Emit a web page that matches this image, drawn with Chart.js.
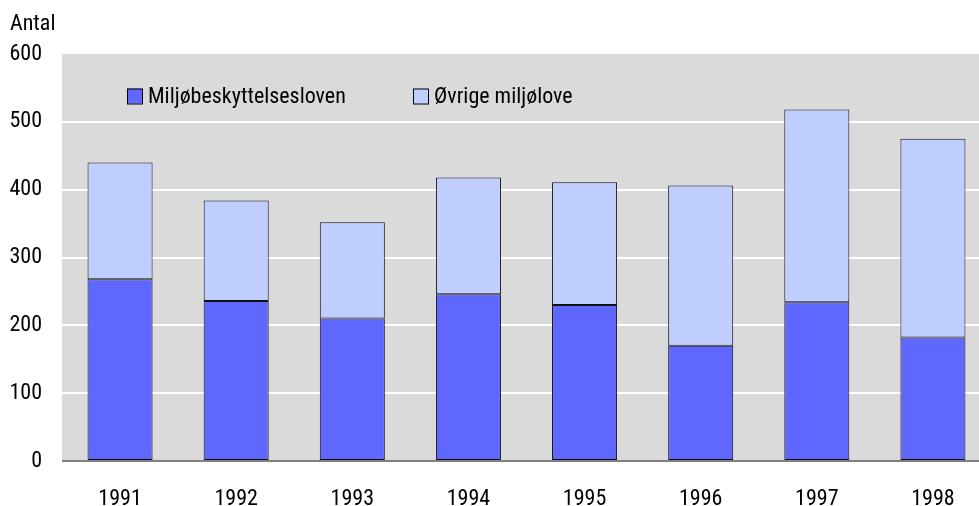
<!DOCTYPE html>
<html>
<head>
<meta charset="utf-8">
<script src="https://cdn.jsdelivr.net/npm/chart.js@4/dist/chart.umd.min.js"></script>
<style>
html,body{margin:0;padding:0;background:#fff;overflow:hidden;width:979px;height:506px;}
#wrap{width:991px;height:506px;position:relative;}
</style>
</head>
<body>
<div id="wrap"><canvas id="c" width="991" height="506"></canvas></div>
<script>
const categories = ['1991','1992','1993','1994','1995','1996','1997','1998'];
const miljoebeskyttelsesloven = [268, 236, 210, 246, 230, 170, 234, 182];
const oevrigeMiljoelove = [172, 148, 142, 172, 181, 236, 284, 293];
const seriesNames = ['Miljøbeskyttelsesloven', 'Øvrige miljølove'];
const yTicks = [0, 100, 200, 300, 400, 500, 600];
const yTitle = 'Antal';

const FONT = "'Roboto Condensed', 'Liberation Sans', sans-serif";
const FS = 22;
const colors = ['#5F67FF', '#BFCDFF'];

const bgPlugin = {
  id: 'bg',
  beforeDraw(chart) {
    const {ctx, chartArea: a} = chart;
    ctx.save();
    ctx.fillStyle = '#DADADA';
    ctx.fillRect(a.left, a.top, a.right - a.left, a.bottom - a.top);
    ctx.restore();
  },
  afterDraw(chart) {
    const {ctx} = chart;
    ctx.save();
    ctx.font = FS + 'px ' + FONT;
    ctx.fillStyle = '#000';
    ctx.textBaseline = 'middle';
    ctx.textAlign = 'left';
    ctx.fillText(yTitle, 10, 24);
    // legend inside plot area
    const items = [{x: 127, i: 0}, {x: 413, i: 1}];
    const ly = 96;
    items.forEach(it => {
      ctx.fillStyle = colors[it.i];
      ctx.fillRect(it.x, ly - 7.5, 15, 15);
      ctx.strokeStyle = '#000';
      ctx.lineWidth = 1;
      ctx.strokeRect(it.x + 0.5, ly - 7.5 + 0.5, 15, 15);
      ctx.fillStyle = '#000';
      ctx.fillText(seriesNames[it.i], it.x + 21, ly + 1);
    });
    ctx.restore();
  }
};

new Chart(document.getElementById('c'), {
  type: 'bar',
  data: {
    labels: categories,
    datasets: [
      {label: seriesNames[0], data: miljoebeskyttelsesloven, backgroundColor: colors[0], borderColor: '#111', borderWidth: 1, borderSkipped: false},
      {label: seriesNames[1], data: oevrigeMiljoelove, backgroundColor: colors[1], borderColor: '#111', borderWidth: 1, borderSkipped: false}
    ]
  },
  options: {
    responsive: false,
    animation: false,
    devicePixelRatio: 1,
    layout: {padding: {top: 54, right: 0, left: 0, bottom: 0}},
    datasets: {bar: {barPercentage: 0.56, categoryPercentage: 1}},
    plugins: {legend: {display: false}, tooltip: {enabled: false}, title: {display: false}},
    scales: {
      x: {
        stacked: true,
        grid: {display: false, drawTicks: false},
        border: {display: false},
        ticks: {font: {family: FONT, size: FS}, color: '#000', padding: 25, maxRotation: 0},
        afterFit(s) { s.height = 45; }
      },
      y: {
        stacked: true,
        min: 0, max: 600,
        afterBuildTicks(s) { s.ticks = yTicks.map(v => ({value: v})); },
        grid: {
          drawTicks: false,
          color: c => c.tick && c.tick.value === 0 ? '#808080' : (c.tick && c.tick.value === 600 ? 'rgba(0,0,0,0)' : '#FFFFFF'),
          lineWidth: 2
        },
        border: {display: false},
        ticks: {font: {family: FONT, size: FS}, color: '#000', padding: 20},
        afterFit(s) { s.width = 62; }
      }
    }
  },
  plugins: [bgPlugin]
});
</script>
</body>
</html>
